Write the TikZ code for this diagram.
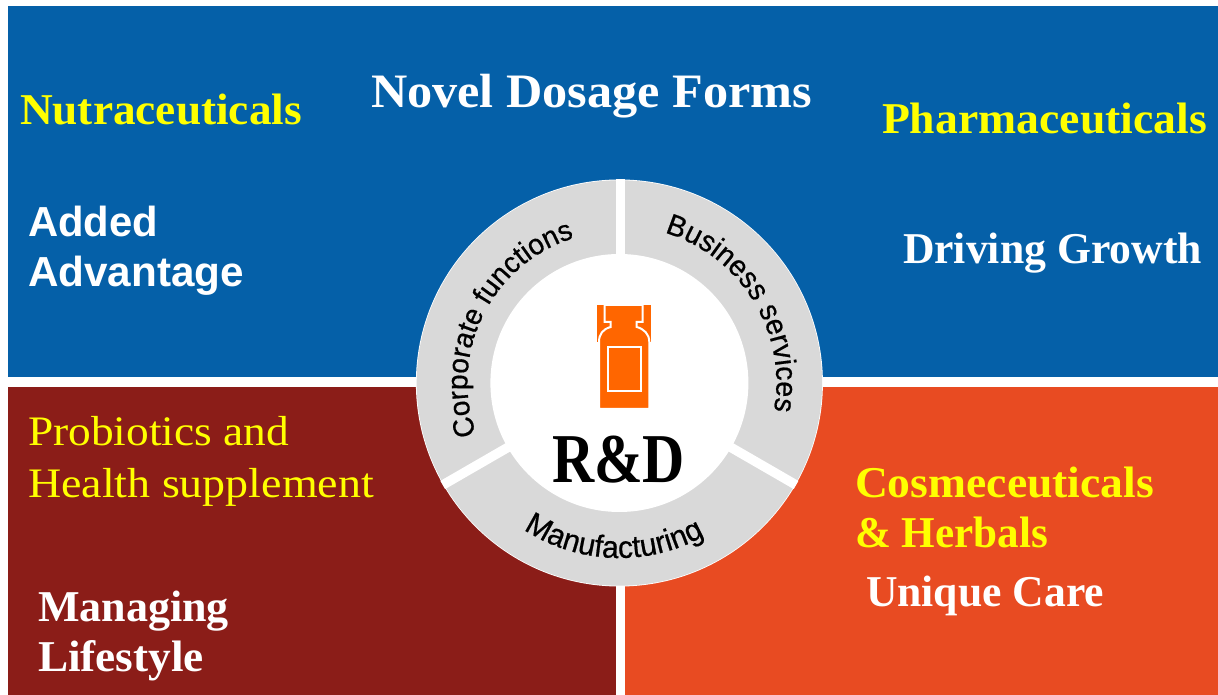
\documentclass[tikz,border=0pt]{standalone}
\usepackage{fontspec}
\usepackage{graphicx}
\setmainfont{Liberation Serif}
\setsansfont{Liberation Sans}
\newfontfamily\ringfont[FakeBold=0.6,FakeStretch=0.97]{Liberation Sans}
\usetikzlibrary{decorations.text}
\definecolor{panelblue}{HTML}{0560A8}
\definecolor{panelred}{HTML}{8B1D18}
\definecolor{panelorange}{HTML}{E84B22}
\definecolor{ringgray}{HTML}{D9D9D9}
\definecolor{bottleorange}{HTML}{FF6600}
\definecolor{labelyellow}{HTML}{FFFF00}
\newcommand{\fitw}[2]{\resizebox{#1pt}{\height}{#2}}
\newcommand{\fs}[1]{\fontsize{#1}{#1}\selectfont}
\tikzset{
  x=1pt,y=1pt,
  lab/.style={anchor=base west,inner sep=0pt,outer sep=0pt},
  yel/.style={lab,text=labelyellow,font=\bfseries\fs{44}},
  yelreg/.style={lab,text=labelyellow,font=\fs{42}},
  wht/.style={lab,text=white,font=\bfseries\fs{44}},
  whtsans/.style={lab,text=white,font=\sffamily\bfseries\fs{42}},
  gapline/.style={white,line width=9.5pt},
  ringtext/.style={decorate,decoration={text along path,text align=center,text={#1}}}
}
\begin{document}
\begin{tikzpicture}
\useasboundingbox (0,0) rectangle (1218,695);
\fill[white] (0,0) rectangle (1218,695);
% panels
\fill[panelblue] (8,689) rectangle (1218,318);
\fill[panelred] (8,0) rectangle (616,307.5);
\fill[panelorange] (625,0) rectangle (1218,307.5);
% ring
\coordinate (c) at (619.4,312);
\fill[white] (c) circle[radius=203.5pt];
\fill[ringgray] (c) circle[radius=202.7pt];
\draw[gapline] (620.4,312) -- (620.4,516);
\draw[gapline] (c) -- ++(-30:204pt);
\draw[gapline] (c) -- ++(210:204pt);
\fill[white] (c) circle[radius=129pt];
% ring texts
\path[ringtext={|\fs{29}\ringfont|Corporate functions}] (c) ++(200:152pt) arc[start angle=200,end angle=107,radius=152pt];
\path[ringtext={|\fs{29.5}\ringfont|Business services}] (c) ++(74:157pt) arc[start angle=74,end angle=-11,radius=157pt];
\path[ringtext={|\fs{31}\ringfont|Manufacturing}] (c) ++(234:175pt) arc[start angle=234,end angle=302,radius=175pt];
% bottle
\fill[bottleorange] (596.7,353) rectangle (650.7,390);
\filldraw[bottleorange,draw=white,line width=2pt,line join=miter]
  (599,286) -- (599,353) .. controls (599,361) and (603,366) .. (610.7,368) -- (610.7,373) -- (604.7,373) -- (604.7,390) -- (642.7,390) -- (642.7,373) -- (636.7,373) -- (636.7,368) .. controls (644,366) and (649.3,361) .. (649.3,353) -- (649.3,286) -- cycle;
\draw[white,line width=2pt] (607.7,304.3) rectangle (641,348);
% labels
\node[yel] (nutra) at (20,570.5) {\fitw{282}{Nutraceuticals}};
\node[wht,font=\bfseries\fs{48}] (novel) at (371,587.5) {\fitw{441}{Novel Dosage Forms}};
\node[yel] (pharma) at (882,561.7) {\fitw{325}{Pharmaceuticals}};
\node[whtsans] (added) at (28,458.2) {\fitw{130}{Added}};
\node[whtsans] (adv) at (28,408.2) {\fitw{216}{Advantage}};
\node[wht] (growth) at (903,431.2) {\fitw{299}{Driving Growth}};
\node[yelreg] (prob) at (28,249) {\fitw{261}{Probiotics and}};
\node[yelreg] (health) at (28,197) {\fitw{346}{Health supplement}};
\node[yel] (cosme) at (855,197) {\fitw{299}{Cosmeceuticals}};
\node[yel] (herb) at (855,147) {\fitw{193}{\& Herbals}};
\node[wht] (care) at (866,88.2) {\fitw{238}{Unique Care}};
\node[wht] (manag) at (38,73.2) {\fitw{191}{Managing}};
\node[wht] (life) at (38,23.2) {\fitw{166}{Lifestyle}};
\node[lab,text=black,font=\bfseries\fs{70}] (rd) at (552,212.5) {\fitw{133}{R\&D}};
\end{tikzpicture}
\end{document}
